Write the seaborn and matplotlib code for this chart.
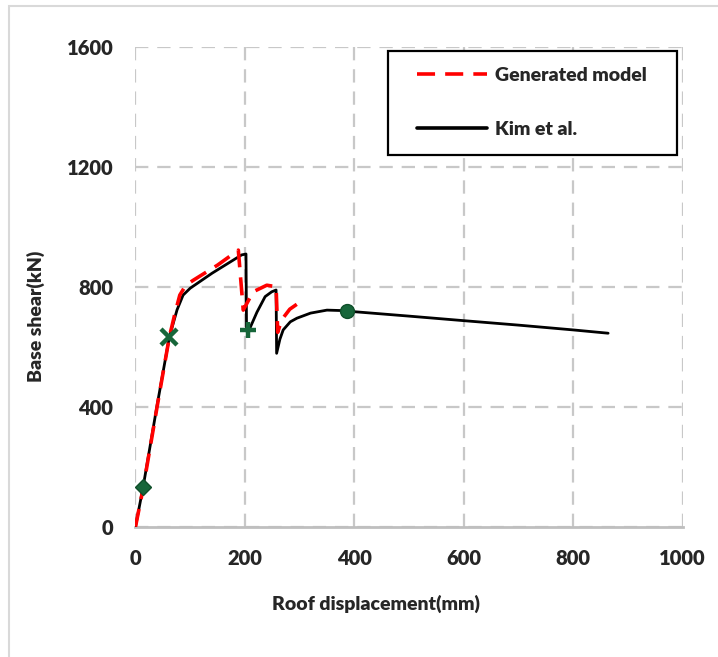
import matplotlib
matplotlib.use("Agg")
import matplotlib.pyplot as plt
from matplotlib.lines import Line2D
from matplotlib.patches import Rectangle
import seaborn as sns

# Kim et al. pushover curve (mm, kN)
kim_disp = [0, 14, 40, 62, 76, 87, 100, 140, 194, 202, 203, 209, 222, 237, 249, 257, 258,
            264, 270, 283, 295, 320, 350, 386, 398, 500, 599, 700, 800, 864]
kim_shear = [0, 133, 410, 633, 723, 772, 795, 845, 906, 909, 656, 661, 715, 767, 783, 789, 578,
             625, 656, 683, 695, 712, 722, 720, 717, 702, 687, 672, 656, 645]

# generated model curve
gen_disp = [0, 14, 40, 62, 72, 81, 92, 106, 150, 188, 197, 215, 240, 257, 260, 267, 282, 304]
gen_shear = [0, 128, 405, 633, 710, 772, 805, 822, 872, 922, 722, 783, 805, 800, 648, 689, 725, 753]

# performance points
pt_disp = [14, 62, 206, 386]
pt_shear = [133, 633, 656, 720]
pt_marker = ["D", "x", "+", "o"]

x_ticks = [0, 200, 400, 600, 800, 1000]
y_ticks = [0, 400, 800, 1200, 1600]

sns.set_style("white")
plt.rcParams["font.family"] = ["Lato", "DejaVu Sans"]
plt.rcParams["font.weight"] = "heavy"

fig = plt.figure(figsize=(7.18, 6.57), dpi=100)
ax = fig.add_axes([0.1887, 0.1983, 0.7619, 0.7306])

fig.patches.append(Rectangle((9 / 718, -0.1), 1.2, 1.1 - 6 / 657, transform=fig.transFigure,
                             fill=False, edgecolor="#d9d9d9", lw=1.5, zorder=0))

sns.lineplot(x=gen_disp, y=gen_shear, ax=ax, color="#ff0000", lw=2.6, sort=False,
             estimator=None, linestyle=(0, (5, 2.8)), zorder=4)
sns.lineplot(x=kim_disp, y=kim_shear, ax=ax, color="black", lw=2.0, sort=False,
             estimator=None, zorder=3)

green = "#17663a"
for xd, yd, m in zip(pt_disp, pt_shear, pt_marker):
    if m in ("x", "+"):
        ax.plot(xd, yd, marker=m, ms=12, mew=3.2, color=green, zorder=5, ls="none")
    elif m == "D":
        ax.plot(xd, yd, marker=m, ms=8.5, color=green, mec="#0f4f2a", zorder=5, ls="none")
    else:
        ax.plot(xd, yd, marker=m, ms=10, color=green, mec="#0f4f2a", zorder=5, ls="none")

ax.set_xlim(0, 1000)
ax.set_ylim(0, 1600)
ax.set_xticks(x_ticks)
ax.set_yticks(y_ticks)
ax.grid(True, color="#c8c8c8", lw=1.6, linestyle=(0, (6, 4)))
for s in ["left", "top", "right"]:
    ax.spines[s].set_visible(False)
ax.spines["bottom"].set_color("#bfbfbf")
ax.spines["bottom"].set_linewidth(2)
ax.tick_params(axis="both", length=0, labelsize=14.5, pad=16)
for lab in ax.get_xticklabels() + ax.get_yticklabels():
    lab.set_fontweight("heavy")

ax.set_xlabel("Roof displacement(mm)", fontsize=14, fontweight="heavy")
ax.set_ylabel("Base shear(kN)", fontsize=14, fontweight="heavy")
ax.xaxis.set_label_coords(0.44, -0.142)
ax.yaxis.set_label_coords(-0.165, 0.438)

# legend frame drawn separately so the entries can sit where they do in the reference
ax.add_patch(Rectangle((0.4616, 0.774), 0.528, 0.2177, transform=ax.transAxes,
                       facecolor="white", edgecolor="black", lw=1.6, zorder=6))
handles = [Line2D([], [], color="#ff0000", lw=2.6, linestyle=(0, (5, 2.8))),
           Line2D([], [], color="black", lw=2.6)]
leg = ax.legend(handles, ["Generated model", "Kim et al."], loc="upper left",
                bbox_to_anchor=(0.5146, 0.958), borderaxespad=0, frameon=False,
                prop={"weight": "heavy", "size": 14}, handlelength=3.6,
                handletextpad=0.4, labelspacing=1.9, borderpad=0)
leg.set_zorder(7)

fig.savefig("out.png", dpi=100)
